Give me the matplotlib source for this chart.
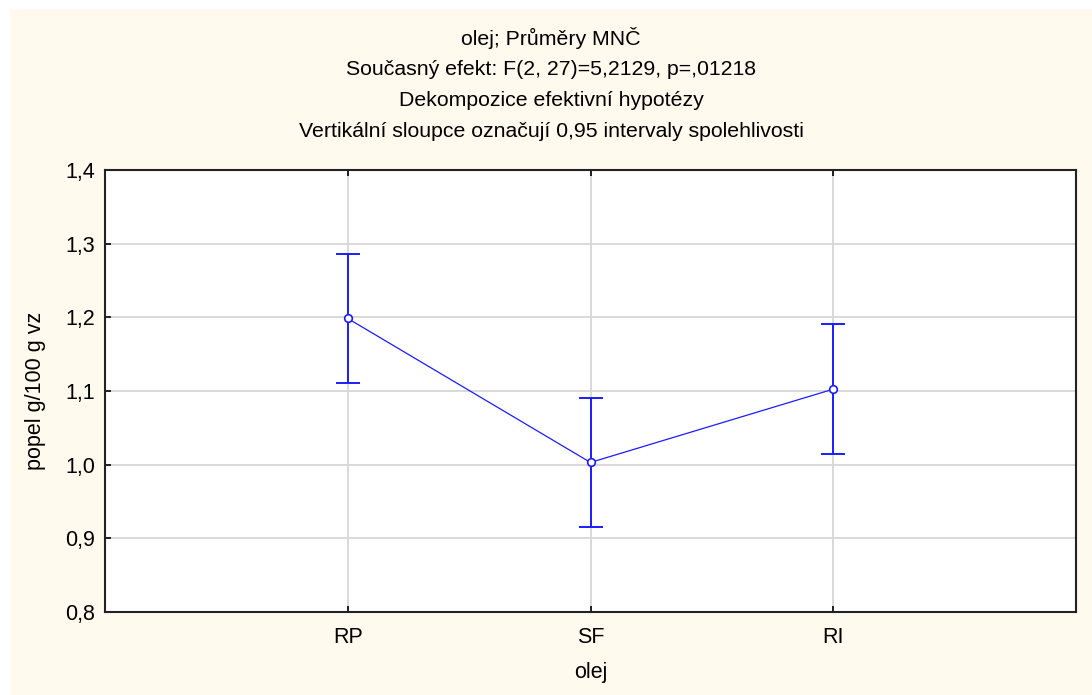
import matplotlib.pyplot as plt
from matplotlib.patches import Rectangle

# group means of ash content with half-widths of the 0.95 confidence intervals
oils = ['RP', 'SF', 'RI']
means = [1.1985, 1.003, 1.1025]
ci_half = [0.088, 0.087, 0.088]

y_ticks = [0.8, 0.9, 1.0, 1.1, 1.2, 1.3, 1.4]
y_tick_labels = ['0,8', '0,9', '1,0', '1,1', '1,2', '1,3', '1,4']

title_lines = [
    'olej; Průměry MNČ',
    'Současný efekt: F(2, 27)=5,2129, p=,01218',
    'Dekompozice efektivní hypotézy',
    'Vertikální sloupce označují 0,95 intervaly spolehlivosti',
]

plt.rcParams['font.family'] = ['Liberation Sans', 'DejaVu Sans']

cream = '#fff9ee'
blue = '#1c1cff'

fig = plt.figure(figsize=(10.92, 6.95), dpi=100)
fig.patch.set_facecolor('white')
fig.patches.append(Rectangle((10 / 1092, 0), 1, 1 - 9 / 695, transform=fig.transFigure,
                             facecolor=cream, edgecolor='none', zorder=-10))

ax = fig.add_axes([105 / 1092, 1 - 612 / 695, 971 / 1092, 442 / 695])
ax.set_facecolor('white')

x = list(range(1, len(oils) + 1))
ax.plot(x, means, color=blue, lw=0.9, zorder=3)
ax.errorbar(x, means, yerr=ci_half, fmt='none', ecolor=blue, elinewidth=1.4,
            capsize=8.5, capthick=1.4, zorder=3)
ax.plot(x, means, 'o', mfc='white', mec=blue, mew=1.2, ms=5.5, zorder=4)

ax.set_xlim(0, 4)
ax.set_ylim(0.8, 1.4)
ax.set_xticks(x)
ax.set_xticklabels(oils)
ax.set_yticks(y_ticks)
ax.set_yticklabels(y_tick_labels)

ax.grid(True, color='#d9d9d9', lw=1.4)
ax.set_axisbelow(True)
for s in ax.spines.values():
    s.set_linewidth(1.5)
    s.set_color('#222222')

ax.tick_params(axis='both', direction='in', length=4, width=1.2, labelsize=15.5,
               top=True, right=False)
ax.tick_params(axis='x', pad=11)
ax.tick_params(axis='y', pad=7)

ax.set_xlabel('olej', fontsize=15.5, labelpad=10)
ax.set_ylabel('popel g/100 g vz', fontsize=15.5, labelpad=14)

# four centred title lines above the plot frame
for i, line in enumerate(title_lines):
    fig.text(551 / 1092, 1 - (38 + 31.3 * i) / 695, line, ha='center', va='center',
             fontsize=15.3)

fig.savefig('out.png', dpi=100, facecolor=fig.get_facecolor())
